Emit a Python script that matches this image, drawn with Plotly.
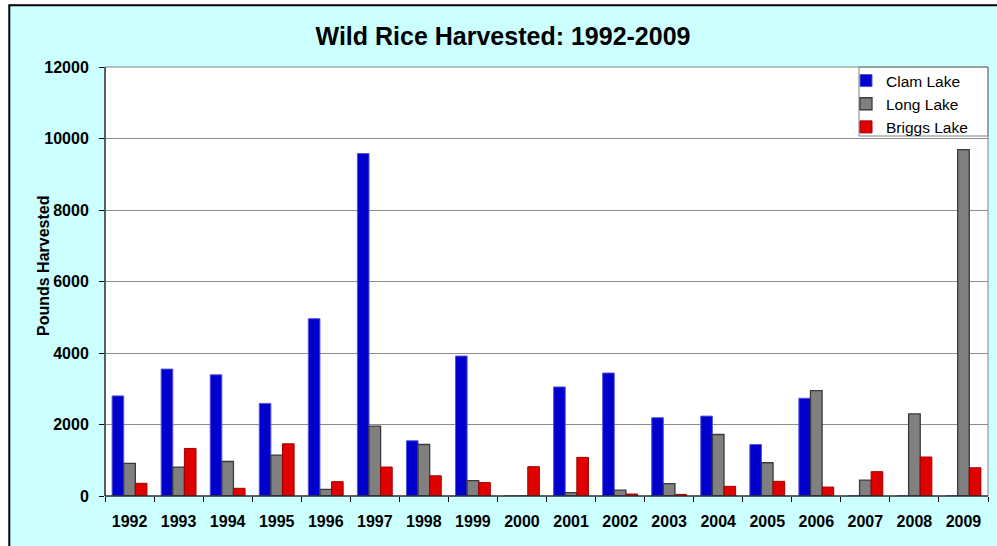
import plotly.graph_objects as go

years = ["1992", "1993", "1994", "1995", "1996", "1997", "1998", "1999", "2000",
         "2001", "2002", "2003", "2004", "2005", "2006", "2007", "2008", "2009"]
clam_lake = [2800, 3550, 3390, 2590, 4960, 9580, 1545, 3915, 0,
             3050, 3440, 2190, 2235, 1440, 2735, 0, 0, 0]
long_lake = [910, 810, 965, 1145, 185, 1955, 1440, 430, 0,
             95, 165, 345, 1720, 930, 2950, 445, 2300, 9690]
briggs_lake = [355, 1330, 215, 1460, 400, 810, 565, 375, 820,
               1080, 55, 45, 270, 410, 250, 680, 1090, 790]
y_ticks = [0, 2000, 4000, 6000, 8000, 10000, 12000]

FONT = "Liberation Sans, Arial, sans-serif"
W, H = 997, 546
L, R, T, B = 105, 9, 67, 50
PW, PH = W - L - R, H - T - B


def px_x(x):
    # page pixel -> paper coordinate
    return (x - L) / PW


def px_y(y):
    return (H - B - y) / PH


fig = go.Figure()
fig.add_trace(go.Bar(name="Clam Lake", x=years, y=clam_lake,
                     marker=dict(color="#0000CC", line=dict(color="#5555DD", width=1))))
fig.add_trace(go.Bar(name="Long Lake", x=years, y=long_lake,
                     marker=dict(color="#808080", line=dict(color="#3a3a3a", width=1.3))))
fig.add_trace(go.Bar(name="Briggs Lake", x=years, y=briggs_lake,
                     marker=dict(color="#E00000", line=dict(color="#A00000", width=1))))

shapes = [
    # white margin outside the chart area (left and top)
    dict(type="rect", xref="paper", yref="paper", layer="below",
         x0=px_x(-20), x1=px_x(8.3), y0=px_y(580), y1=px_y(-20),
         fillcolor="white", line=dict(width=0)),
    dict(type="rect", xref="paper", yref="paper", layer="below",
         x0=px_x(-20), x1=px_x(1020), y0=px_y(4.3), y1=px_y(-20),
         fillcolor="white", line=dict(width=0)),
    # chart area border (black)
    dict(type="rect", xref="paper", yref="paper", layer="below",
         x0=px_x(9.3), x1=px_x(1020), y0=px_y(580), y1=px_y(5.3),
         fillcolor="rgba(0,0,0,0)", line=dict(color="black", width=2)),
    # plot frame (gray)
    dict(type="rect", xref="paper", yref="paper", layer="above",
         x0=0, x1=1, y0=0, y1=1, line=dict(color="#808080", width=1)),
    # left and bottom axis lines (black)
    dict(type="line", xref="paper", yref="paper", layer="above",
         x0=0, x1=0, y0=0, y1=1, line=dict(color="black", width=1)),
    dict(type="line", xref="paper", yref="paper", layer="above",
         x0=0, x1=1, y0=0, y1=0, line=dict(color="black", width=1)),
    # legend box
    dict(type="rect", xref="paper", yref="paper", layer="above",
         x0=px_x(859), x1=1, y0=px_y(136), y1=1,
         fillcolor="rgba(0,0,0,0)", line=dict(color="#808080", width=1)),
]

fig.update_layout(
    width=W, height=H,
    margin=dict(l=L, r=R, t=T, b=B, autoexpand=False),
    paper_bgcolor="#CCFFFF",
    plot_bgcolor="white",
    barmode="group",
    bargap=0.29,
    bargroupgap=0,
    font=dict(family=FONT, color="black"),
    title=dict(text="<b>Wild Rice Harvested: 1992-2009</b>",
               font=dict(family=FONT, size=25, color="black"),
               xref="container", x=503 / W, xanchor="center",
               yref="container", y=1 - 36 / H, yanchor="middle"),
    xaxis=dict(type="category", showline=False, showgrid=False,
               ticks="outside", ticklen=5, tickcolor="black", tickson="boundaries",
               tickfont=dict(family=FONT, size=16, color="black", weight="bold"),
               ticklabelstandoff=14),
    yaxis=dict(range=[0, 12000], tickvals=y_ticks, ticktext=[str(v) for v in y_ticks],
               showline=False, showgrid=True, gridcolor="#8c8c8c", gridwidth=1,
               zeroline=False,
               ticks="outside", ticklen=5, tickcolor="black",
               tickfont=dict(family=FONT, size=16, color="black", weight="bold"),
               ticklabelstandoff=7),
    legend=dict(x=px_x(846), xanchor="left", y=px_y(64), yanchor="top",
                bgcolor="rgba(0,0,0,0)", borderwidth=0, tracegroupgap=0,
                font=dict(family=FONT, size=15.5, color="black")),
    shapes=shapes,
    annotations=[dict(text="<b>Pounds Harvested</b>", textangle=-90,
                      xref="paper", yref="paper", x=px_x(43), y=px_y(266),
                      xanchor="center", yanchor="middle", showarrow=False,
                      font=dict(family=FONT, size=16, color="black"))],
)

fig.write_html("out.html", config={"displayModeBar": False},
               post_script="document.body.style.margin='0';")
